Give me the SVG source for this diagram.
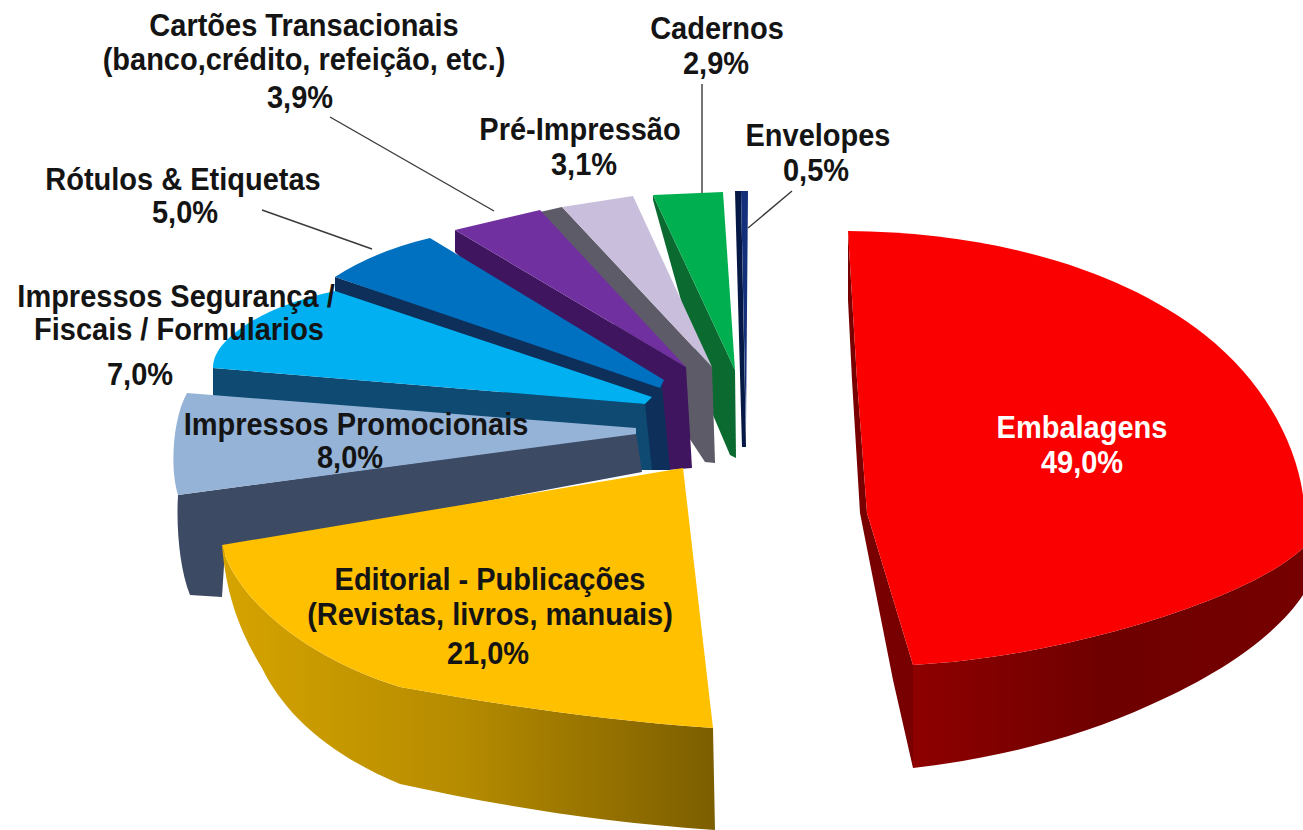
<svg xmlns="http://www.w3.org/2000/svg" width="1303" height="830" viewBox="0 0 1303 830">
  <defs>
    <style>
      .lbl { font-family: "Liberation Sans", Arial, sans-serif; font-weight: bold; font-size: 29px; fill: #141414; text-anchor: middle; }
      .lblw { font-family: "Liberation Sans", Arial, sans-serif; font-weight: bold; font-size: 29px; fill: #ffffff; text-anchor: middle; }
      .leader { stroke: #3a3a3a; stroke-width: 1.4; fill: none; }
    </style>
    <linearGradient id="goldSide" x1="222" y1="0" x2="715" y2="0" gradientUnits="userSpaceOnUse">
      <stop offset="0" stop-color="#D6A400"/>
      <stop offset="0.5" stop-color="#B48A00"/>
      <stop offset="1" stop-color="#7C5E00"/>
    </linearGradient>
    <linearGradient id="redSide" x1="913" y1="0" x2="1303" y2="0" gradientUnits="userSpaceOnUse">
      <stop offset="0" stop-color="#8E0000"/>
      <stop offset="0.5" stop-color="#6E0000"/>
      <stop offset="1" stop-color="#760000"/>
    </linearGradient>
  </defs>
  <rect width="1303" height="830" fill="#ffffff"/>

  <g id="connectors">
    <line class="leader" x1="330" y1="117" x2="494" y2="211"/>
    <line class="leader" x1="262" y1="210" x2="372" y2="249"/>
    <line class="leader" x1="702" y1="84" x2="702" y2="193"/>
    <line class="leader" x1="792" y1="191" x2="748" y2="228"/>
  </g>

  <g id="envelopes">
    <polygon points="735,191 741,191 746,447 742,447" fill="#061845"/>
    <polygon points="741,191 748,191 746,430" fill="#14307A"/>
    <text class="lbl" transform="translate(818,146) scale(1,1.1)">Envelopes</text>
    <text class="lbl" transform="translate(816,181) scale(1,1.1)">0,5%</text>
  </g>

  <g id="cadernos">
    <polygon points="653,195 735,370 736,458 730,455 713,415 653,200" fill="#0B6A30"/>
    <polygon points="653,195 723,192 735,370" fill="#00B050"/>
    <text class="lbl" transform="translate(717,39) scale(1,1.1)">Cadernos</text>
    <text class="lbl" transform="translate(716,74) scale(1,1.1)">2,9%</text>
  </g>

  <g id="pre-impressao">
    <polygon points="562,207 712,367 715,463 705,462 540,212" fill="#5E5B68"/>
    <polygon points="562,207 633,196 712,367" fill="#C9BEDB"/>
    <text class="lbl" transform="translate(580,140) scale(1,1.1)">Pré-Impressão</text>
    <text class="lbl" transform="translate(584,175) scale(1,1.1)">3,1%</text>
  </g>

  <g id="cartoes">
    <polygon points="455,230 686,367 692,468 668,470 455,252" fill="#40155F"/>
    <polygon points="455,230 540,210 686,367" fill="#7030A0"/>
    <text class="lbl" transform="translate(304,36) scale(1,1.1)">Cartões Transacionais</text>
    <text class="lbl" transform="translate(304,70) scale(1,1.1)">(banco,crédito, refeição, etc.)</text>
    <text class="lbl" transform="translate(300,108) scale(1,1.1)">3,9%</text>
  </g>

  <g id="rotulos">
    <polygon points="335,277 662,385 670,470 640,470 335,297" fill="#0D2F5A"/>
    <path d="M335,277 Q375,251 430,238 L664,380 L660,388 Z" fill="#0070C0"/>
    <text class="lbl" transform="translate(183,190) scale(1,1.1)">Rótulos &amp; Etiquetas</text>
    <text class="lbl" transform="translate(185,223) scale(1,1.1)">5,0%</text>
  </g>

  <g id="seguranca">
    <polygon points="213,368 645,404 652,470 633,470 213,400" fill="#0E4A72"/>
    <path d="M335,291 L652,397 L645,404 L213,368 C212,340 262,306 335,291 Z" fill="#00B0F0"/>
    <text class="lbl" transform="translate(176,307) scale(1,1.1)">Impressos Segurança /</text>
    <text class="lbl" transform="translate(179,340) scale(1,1.1)">Fiscais / Formularios</text>
    <text class="lbl" transform="translate(140,385) scale(1,1.1)">7,0%</text>
  </g>

  <g id="promocionais">
    <path d="M178,495 L636,433 L642,472 L225,550 L222,597 L190,595 C180,570 176,530 178,495 Z" fill="#3C4A64"/>
    <path d="M187,393 L636,428 L636,434 L178,495 C170,470 172,420 187,393 Z" fill="#95B3D7"/>
    <text class="lbl" transform="translate(356,435) scale(1,1.1)">Impressos Promocionais</text>
    <text class="lbl" transform="translate(350,468) scale(1,1.1)">8,0%</text>
  </g>

  <g id="editorial">
    <path d="M222,545 C235,600 310,660 400,687 C500,705 600,720 713,728 L715,830 C600,822 500,806 400,784 C330,755 285,715 262,668 C240,632 226,595 222,545 Z" fill="url(#goldSide)"/>
    <path d="M222,545 L683,468 L713,728 C600,720 500,705 400,687 C310,660 235,600 222,545 Z" fill="#FFC000"/>
    <text class="lbl" transform="translate(490,590) scale(1,1.1)">Editorial - Publicações</text>
    <text class="lbl" transform="translate(490,625) scale(1,1.1)">(Revistas, livros, manuais)</text>
    <text class="lbl" transform="translate(488,664) scale(1,1.1)">21,0%</text>
  </g>

  <g id="embalagens">
    <path d="M848,231 L857,380 L867,513 L913,665 L913,768 L893,680 L860,513 L852,380 L848,300 Z" fill="#780000"/>
    <path d="M913,665 C1010,660 1120,635 1210,600 C1255,582 1285,565 1303,548 L1303,595 C1280,630 1230,670 1150,705 C1080,737 1000,758 913,768 Z" fill="url(#redSide)"/>
    <path d="M848,231 C990,232 1120,268 1205,335 C1262,380 1295,440 1303,495 L1303,548 C1285,565 1255,582 1210,600 C1120,635 1010,660 913,665 L867,513 L857,380 Z" fill="#FA0000"/>
    <text class="lblw" transform="translate(1082,438) scale(1,1.1)">Embalagens</text>
    <text class="lblw" transform="translate(1082,473) scale(1,1.1)">49,0%</text>
  </g>
</svg>
